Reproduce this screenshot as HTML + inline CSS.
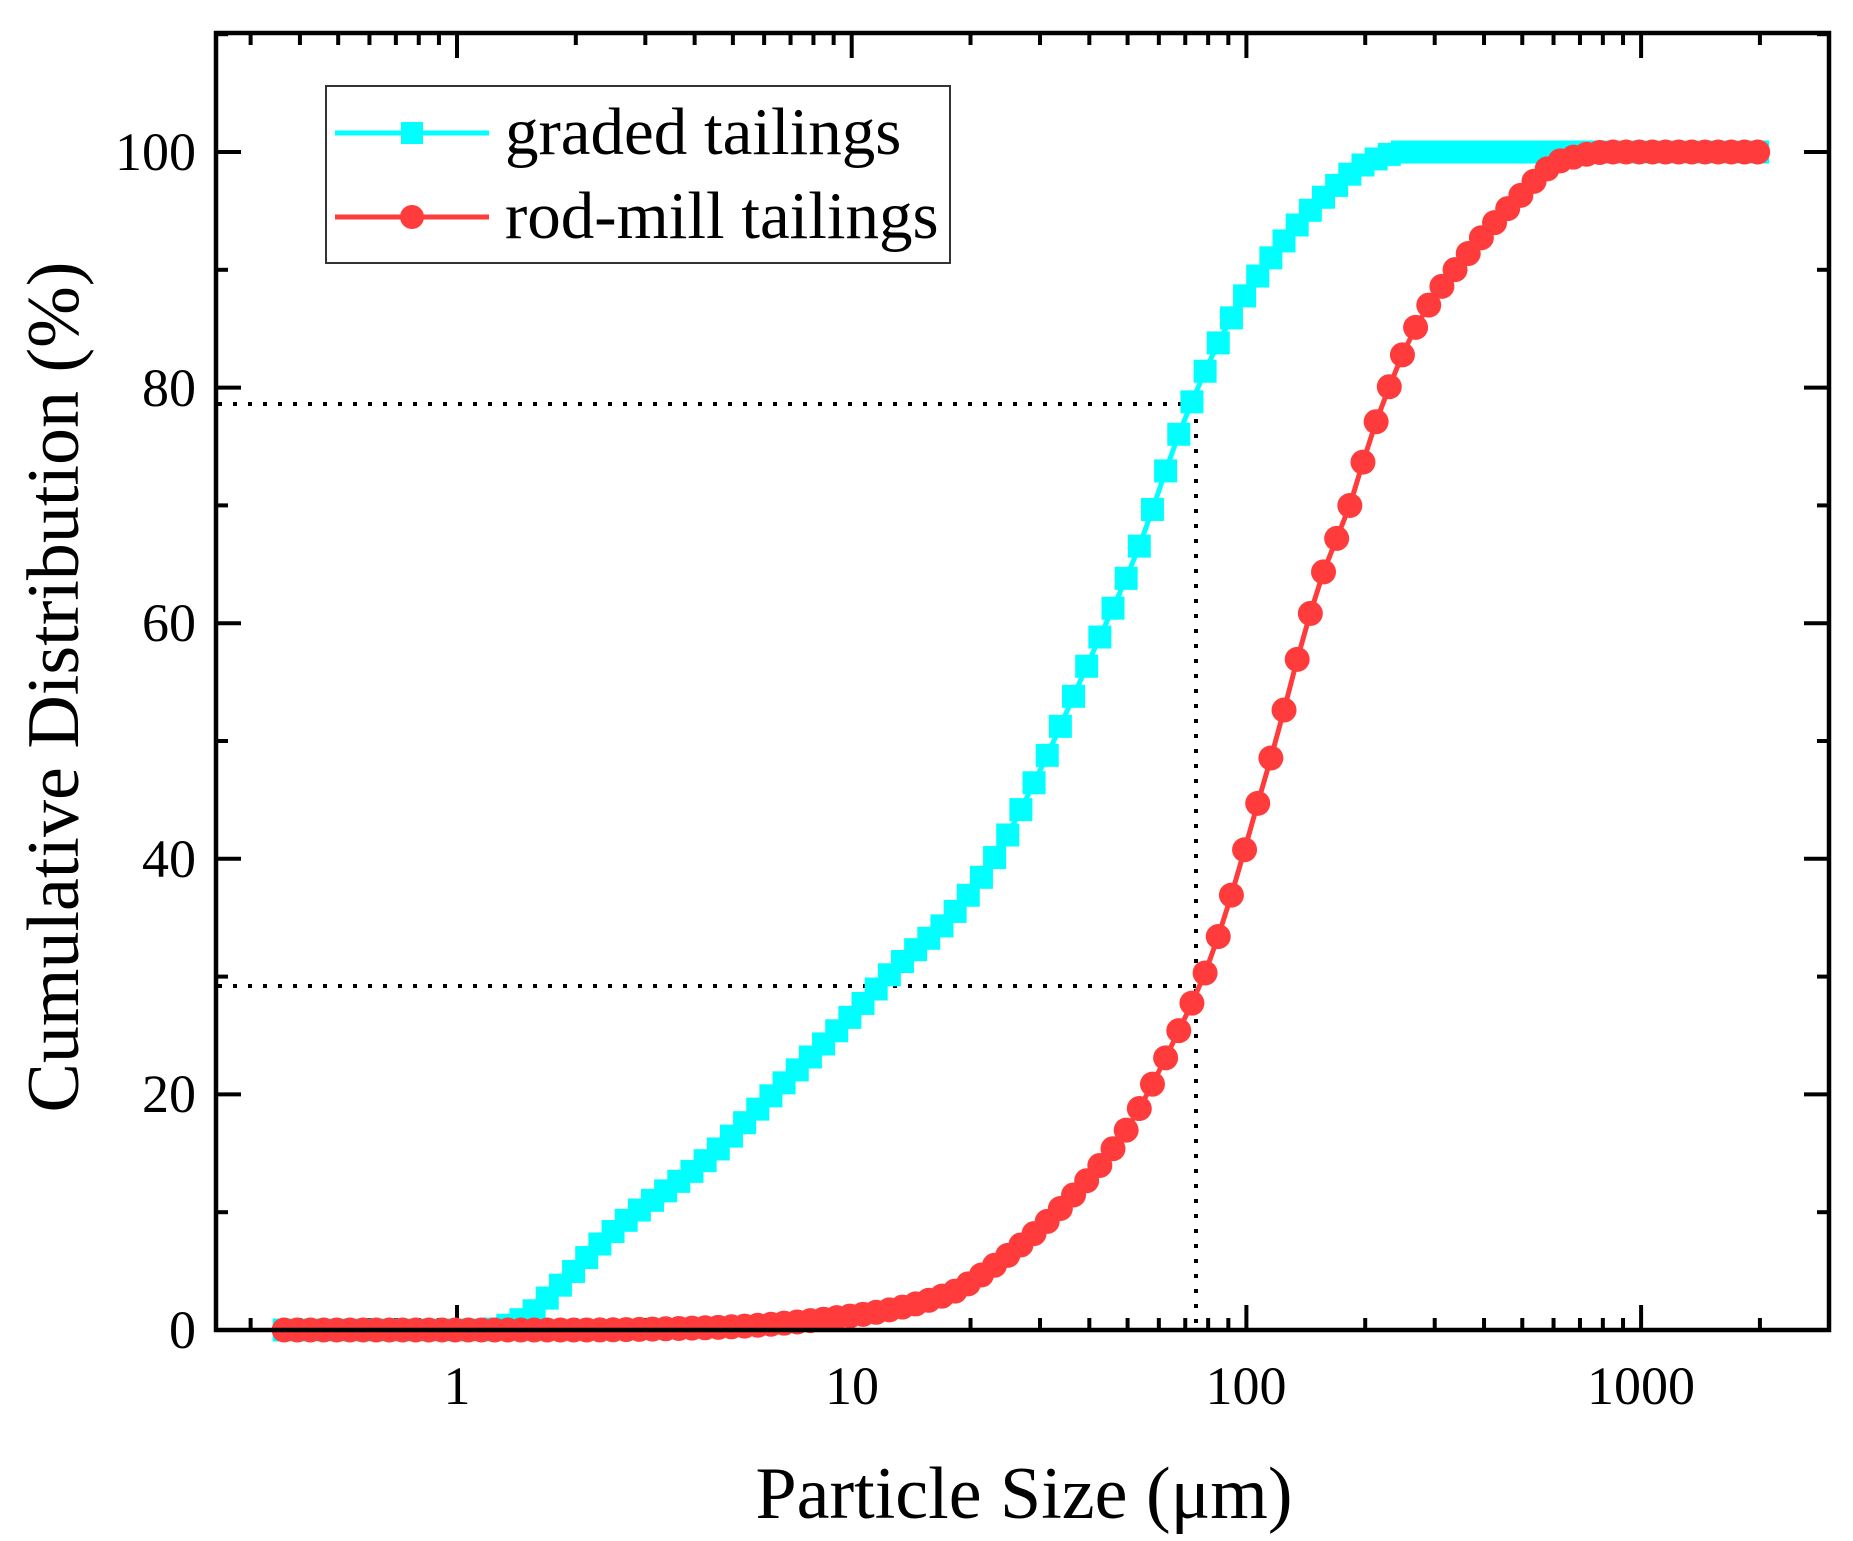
<!DOCTYPE html>
<html><head><meta charset="utf-8">
<style>
html,body{margin:0;padding:0;background:#fff;}
svg{display:block;font-family:"Liberation Serif",serif;}
</style></head>
<body>
<svg id="s" width="1853" height="1541" viewBox="0 0 1853 1541" xmlns="http://www.w3.org/2000/svg">
<rect width="1853" height="1541" fill="#fff"/>
<g id="dots" stroke="#000" stroke-width="4" stroke-dasharray="4 11" fill="none">
<line x1="218" y1="404" x2="1196" y2="404"/>
<line x1="218" y1="986" x2="1196" y2="986"/>
<line x1="1196" y1="404" x2="1196" y2="1330"/>
</g>
<g id="ticks" stroke="#000" stroke-width="4"></g>
<g id="series"></g>
<rect x="216" y="33" width="1613" height="1297" fill="none" stroke="#000" stroke-width="4.5"/>
<g font-size="54" fill="#000" text-anchor="end">
<text x="196" y="1348">0</text>
<text x="196" y="1112">20</text>
<text x="196" y="877">40</text>
<text x="196" y="641">60</text>
<text x="196" y="406">80</text>
<text x="196" y="170">100</text>
</g>
<g font-size="54" fill="#000" text-anchor="middle">
<text x="457" y="1404">1</text>
<text x="852" y="1404">10</text>
<text x="1246" y="1404">100</text>
<text x="1641" y="1404">1000</text>
</g>
<text x="1024" y="1518" font-size="74" text-anchor="middle">Particle Size (μm)</text>
<text transform="translate(78,687) rotate(-90)" font-size="74" text-anchor="middle">Cumulative Distribution (%)</text>
<rect x="326" y="86" width="624" height="177" fill="#fff" stroke="#333" stroke-width="2"/>
<line x1="335" y1="133" x2="489" y2="133" stroke="#00ffff" stroke-width="5"/>
<rect x="401" y="122" width="22" height="22" fill="#00ffff"/>
<line x1="335" y1="217" x2="489" y2="217" stroke="#ff3b3b" stroke-width="5"/>
<circle cx="412" cy="217" r="12" fill="#ff3b3b"/>
<text x="505" y="154" font-size="67">graded tailings</text>
<text x="505" y="238" font-size="67">rod-mill tailings</text>
</svg>
<script>
(function(){
var NS="http://www.w3.org/2000/svg";
function X(l){return 457+394.7*l;}
function Y(p){return 1330-11.78*p;}
var t=document.getElementById('ticks');
function ln(x1,y1,x2,y2){var e=document.createElementNS(NS,'line');e.setAttribute('x1',x1);e.setAttribute('y1',y1);e.setAttribute('x2',x2);e.setAttribute('y2',y2);t.appendChild(e);}
for(var d=-1;d<=3;d++){for(var m=1;m<=9;m++){var l=d+Math.log10(m);var x=X(l);if(x<218||x>1827)continue;var L=(m==1)?25:12;ln(x,1330,x,1330-L);ln(x,33,x,33+L);}}
for(var p=0;p<=110;p+=10){var y=Y(p);var L=(p%20==0)?25:12;ln(216,y,216+L,y);ln(1829,y,1829-L,y);}
var cy=[[-0.5,0],[0.07,0],[0.17,1.0],[0.222,2.5],[0.40,8.5],[0.64,14.7],[0.79,19.7],[1.0,26.7],[1.12,31],[1.24,34.7],[1.36,40],[1.48,47.7],[1.60,56.7],[1.72,65.8],[1.84,77],[1.96,85.8],[2.08,91.8],[2.20,96.3],[2.32,99.3],[2.40,100],[3.5,100]];
var rd=[[-0.5,0],[0.3,0],[0.64,0.2],[1.0,1.2],[1.24,3],[1.39,6.2],[1.54,10.7],[1.69,16.7],[1.84,26.2],[1.90,30.7],[1.96,36.7],[2.02,43.7],[2.08,50.7],[2.14,58.3],[2.20,64.8],[2.26,69.8],[2.32,76.3],[2.44,85.8],[2.56,91.3],[2.68,95.8],[2.80,99.3],[2.92,100],[3.5,100]];
function mono(tab){var n=tab.length,d=[],m=[];for(var i=0;i<n-1;i++)d.push((tab[i+1][1]-tab[i][1])/(tab[i+1][0]-tab[i][0]));m[0]=d[0];m[n-1]=d[n-2];for(i=1;i<n-1;i++){if(d[i-1]*d[i]<=0)m[i]=0;else{var w1=2*(tab[i+1][0]-tab[i][0])+(tab[i][0]-tab[i-1][0]),w2=(tab[i+1][0]-tab[i][0])+2*(tab[i][0]-tab[i-1][0]);m[i]=(w1+w2)/(w1/d[i-1]+w2/d[i]);}}
return function(l){for(var i=1;i<n;i++){if(l<=tab[i][0]){var a=tab[i-1],b=tab[i],h=b[0]-a[0],u=(l-a[0])/h;var h00=2*u*u*u-3*u*u+1,h10=u*u*u-2*u*u+u,h01=-2*u*u*u+3*u*u,h11=u*u*u-u*u;return h00*a[1]+h10*h*m[i-1]+h01*b[1]+h11*h*m[i];}}return tab[n-1][1];};}
var g=document.getElementById('series');
function draw(tab,col,sq){var f=mono(tab);var pts=[];var ps=[];for(var l=-0.438;l<=3.312;l+=1/30){var x=X(l),y=Y(Math.max(0,Math.min(100,f(l))));pts.push(x.toFixed(1)+','+y.toFixed(1));ps.push([x,y]);}
var pl=document.createElementNS(NS,'polyline');pl.setAttribute('points',pts.join(' '));pl.setAttribute('fill','none');pl.setAttribute('stroke',col);pl.setAttribute('stroke-width','5');g.appendChild(pl);
ps.forEach(function(p){var e;if(sq){e=document.createElementNS(NS,'rect');e.setAttribute('x',p[0]-11.5);e.setAttribute('y',p[1]-11.5);e.setAttribute('width',23);e.setAttribute('height',23);}else{e=document.createElementNS(NS,'circle');e.setAttribute('cx',p[0]);e.setAttribute('cy',p[1]);e.setAttribute('r',12.5);}e.setAttribute('fill',col);g.appendChild(e);});}
draw(cy,'#00ffff',true);
draw(rd,'#ff3b3b',false);
})();
</script>
</body></html>
